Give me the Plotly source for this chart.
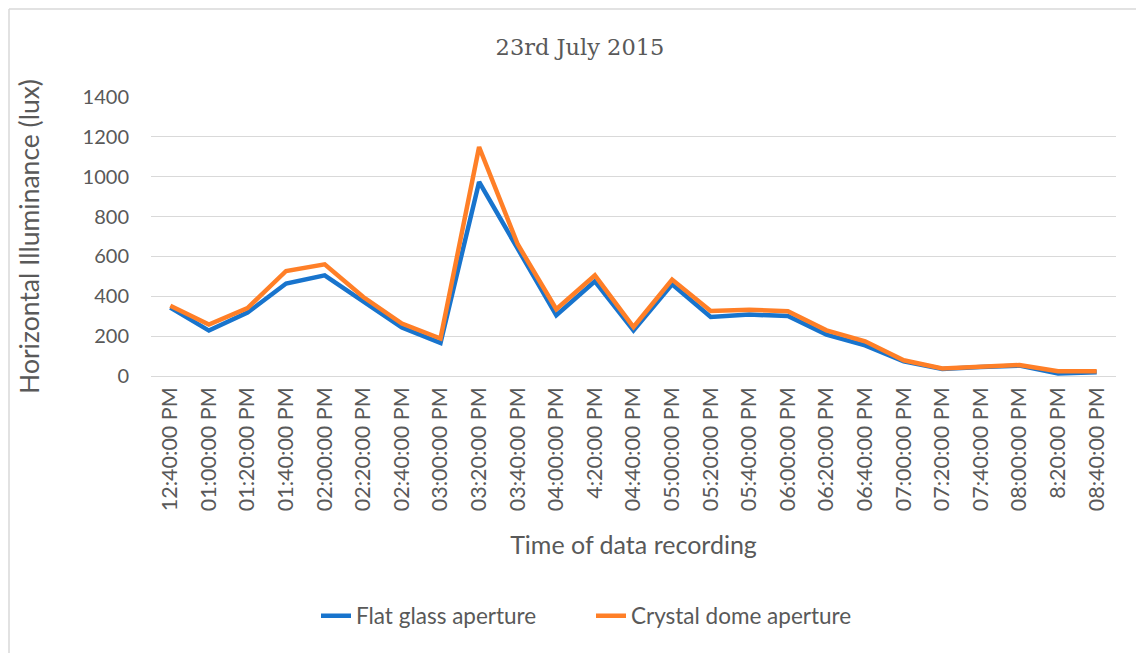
import plotly.graph_objects as go

times = ["12:40:00 PM", "01:00:00 PM", "01:20:00 PM", "01:40:00 PM", "02:00:00 PM",
         "02:20:00 PM", "02:40:00 PM", "03:00:00 PM", "03:20:00 PM", "03:40:00 PM",
         "04:00:00 PM", "4:20:00 PM", "04:40:00 PM", "05:00:00 PM", "05:20:00 PM",
         "05:40:00 PM", "06:00:00 PM", "06:20:00 PM", "06:40:00 PM", "07:00:00 PM",
         "07:20:00 PM", "07:40:00 PM", "08:00:00 PM", "8:20:00 PM", "08:40:00 PM"]

flat_glass = [343, 228, 318, 464, 505, 371, 243, 166, 974, 639, 305, 475, 229,
              460, 296, 308, 301, 208, 154, 74, 35, 45, 52, 12, 19]
crystal_dome = [353, 258, 341, 527, 560, 396, 263, 188, 1149, 661, 335, 505, 246,
                484, 326, 333, 325, 229, 174, 79, 38, 49, 55, 24, 24]

y_ticks = [0, 200, 400, 600, 800, 1000, 1200, 1400]

GRAY = "#595959"
SANS = "Lato"

# the page body has an 8px margin; work in page pixels and convert
OFF = 8
PAGE_W, PAGE_H = 1144, 653
W, H = PAGE_W - OFF, PAGE_H - OFF
PL, PR, PT, PB = 151, 1116, 97, 376          # plot area in page pixels
L, T = PL - OFF, PT - OFF
R = W - (PR - OFF)
B = H - (PB - OFF)
pw, ph = W - L - R, H - T - B

def px_x(x):
    return (x - PL) / pw

def px_y(y):
    return (PB - y) / ph

fig = go.Figure()
fig.add_trace(go.Scatter(x=times, y=flat_glass, mode="lines", name="Flat glass aperture",
                         line=dict(color="#1874CD", width=4.5)))
fig.add_trace(go.Scatter(x=times, y=crystal_dome, mode="lines", name="Crystal dome aperture",
                         line=dict(color="#FF7F27", width=4.5)))

fig.update_layout(
    width=W, height=H,
    margin=dict(l=L, r=R, t=T, b=B, autoexpand=False),
    paper_bgcolor="white", plot_bgcolor="white",
    font=dict(family=SANS, color=GRAY, size=20),
    title=dict(text="23rd July 2015", x=px_x(580), xref="paper", xanchor="center",
               y=1 - (47 - OFF) / H, yanchor="middle",
               font=dict(family="DejaVu Serif", size=22.5, color=GRAY)),
    showlegend=True,
    legend=dict(orientation="h", x=px_x(591), xanchor="center", y=px_y(616), yanchor="middle",
                font=dict(family=SANS, size=22.5, color=GRAY), bgcolor="rgba(0,0,0,0)",
                entrywidth=230),
    xaxis=dict(type="category", range=[-0.5, len(times) - 0.5], tickangle=-90,
               showgrid=False, zeroline=False, showline=False, ticks="",
               ticklabelstandoff=6,
               tickfont=dict(family=SANS, size=21.5, color=GRAY),
               title=dict(text="Time of data recording", standoff=26,
                          font=dict(family=SANS, size=25, color=GRAY))),
    yaxis=dict(range=[0, 1400], tickvals=y_ticks, showgrid=True, gridcolor="#D9D9D9", gridwidth=1.3,
               zeroline=True, zerolinecolor="#D9D9D9", zerolinewidth=1.3, showline=False, ticks="",
               ticklabelstandoff=21,
               tickfont=dict(family=SANS, size=20, color=GRAY),
               title=dict(text="Horizontal Illuminance (lux)", standoff=35,
                          font=dict(family=SANS, size=26.5, color=GRAY))),
    shapes=[
        dict(type="line", xref="paper", yref="paper", x0=px_x(9), x1=px_x(PAGE_W), y0=px_y(9), y1=px_y(9),
             line=dict(color="#D9D9D9", width=1.5)),
        dict(type="line", xref="paper", yref="paper", x0=px_x(9), x1=px_x(9), y0=px_y(9), y1=px_y(PAGE_H),
             line=dict(color="#D9D9D9", width=1.5)),
    ],
)

fig.write_html("out.html")
